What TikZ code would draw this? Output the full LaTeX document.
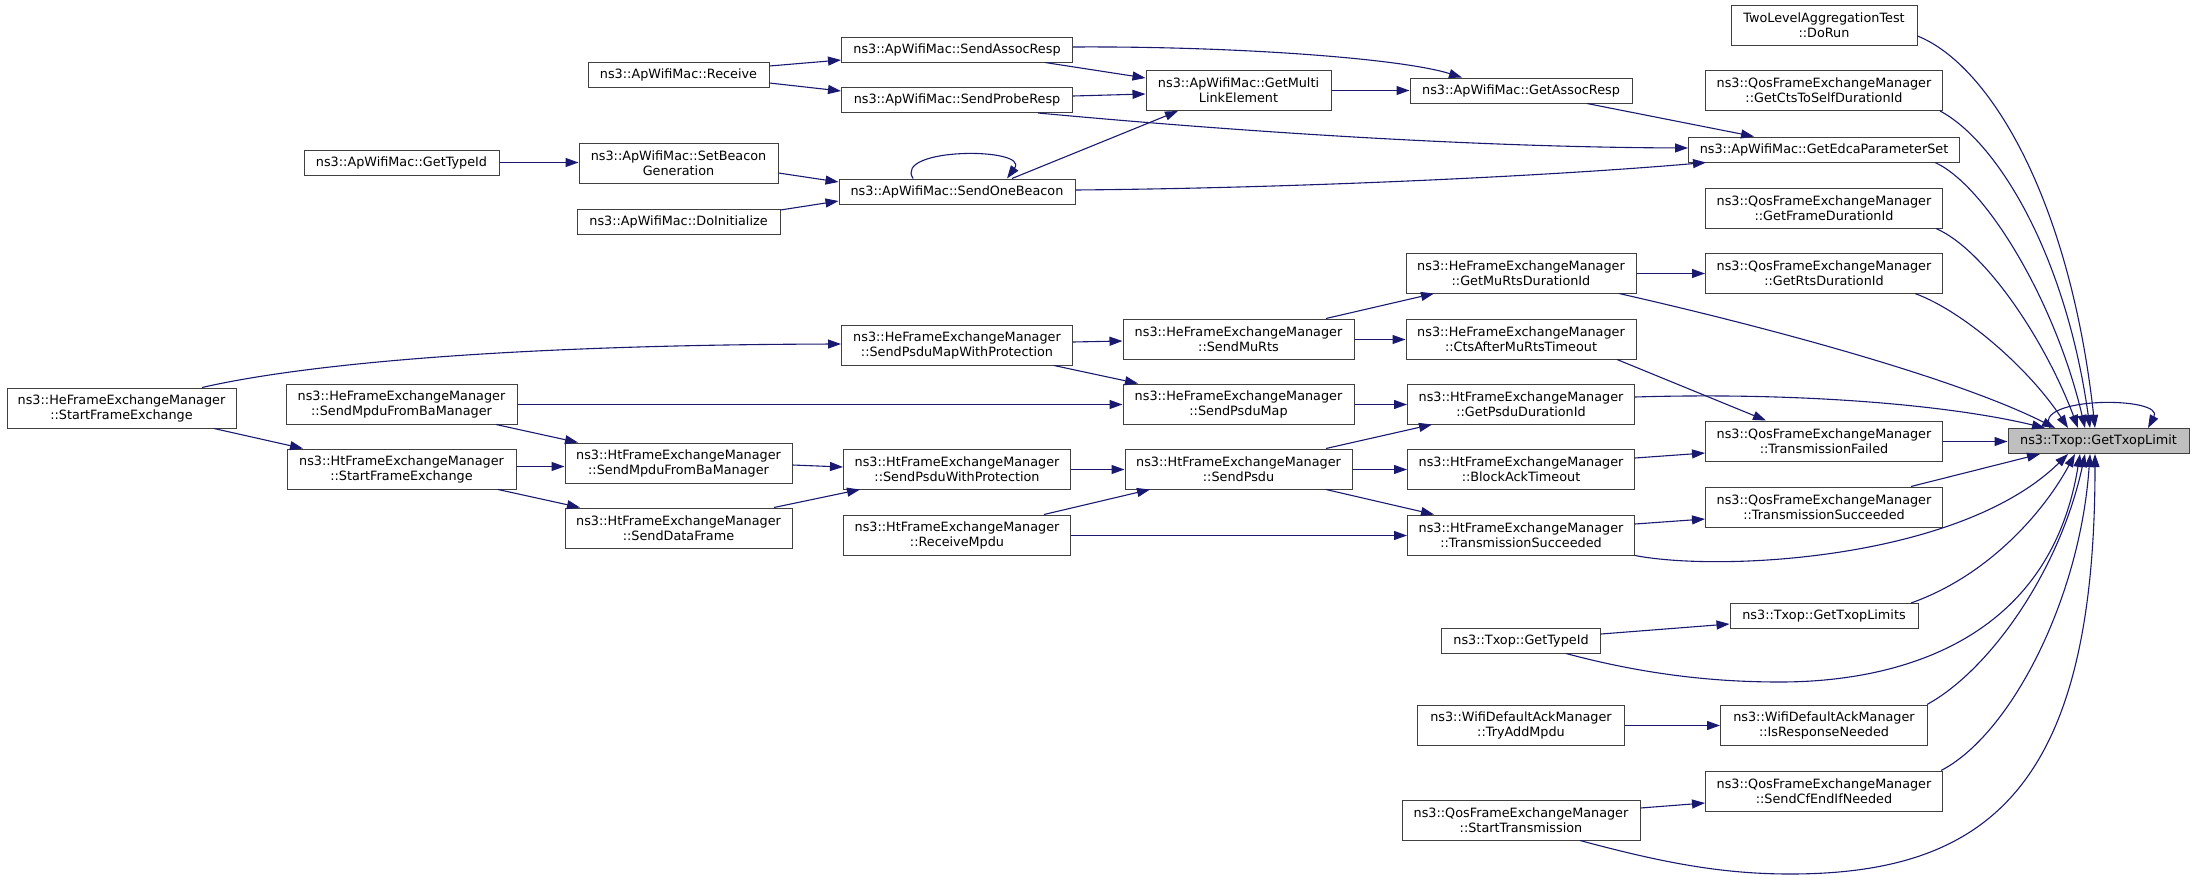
\documentclass[tikz,border=0pt]{standalone}
\usepackage{fontspec}
\setmainfont{DejaVu Sans}
\usetikzlibrary{arrows.meta}
\definecolor{edgeblue}{HTML}{191970}
\definecolor{nodeborder}{HTML}{404040}
\definecolor{hilite}{HTML}{BFBFBF}
\tikzset{
  box/.style={draw=nodeborder, fill=white, line width=1pt, align=center, inner sep=0pt,
    font=\fontsize{12.8}{15}\selectfont},
  edge/.style={draw=edgeblue, line width=1.1pt, -{Triangle[length=13pt,width=9pt]}},
}
\newcommand\gnode[6]{\node[box, minimum width=#4pt, minimum height=#5pt] (#1) at (#2,#3) {#6};}
\begin{document}
\begin{tikzpicture}[x=1pt,y=-1pt]
\useasboundingbox (0,0) rectangle (2195,878);
% column 0
\gnode{heStart}{121.5}{408}{229}{40}{ns3::HeFrameExchangeManager\\::StartFrameExchange}
% column 1
\gnode{apTypeId}{401.5}{163}{195}{25}{ns3::ApWifiMac::GetTypeId}
\gnode{heSendMpdu}{401.5}{404}{231}{40}{ns3::HeFrameExchangeManager\\::SendMpduFromBaManager}
\gnode{htStart}{401.5}{469}{229}{40}{ns3::HtFrameExchangeManager\\::StartFrameExchange}
% column 2
\gnode{receive}{678.5}{74.5}{181}{25}{ns3::ApWifiMac::Receive}
\gnode{setBeacon}{678.5}{163}{199}{40}{ns3::ApWifiMac::SetBeacon\\Generation}
\gnode{doInit}{678.5}{221.5}{203}{25}{ns3::ApWifiMac::DoInitialize}
\gnode{htSendMpdu}{678.5}{463}{227}{40}{ns3::HtFrameExchangeManager\\::SendMpduFromBaManager}
\gnode{htSendData}{678.5}{528}{227}{40}{ns3::HtFrameExchangeManager\\::SendDataFrame}
% column 3
\gnode{sendAssoc}{957}{49.5}{231}{25}{ns3::ApWifiMac::SendAssocResp}
\gnode{sendProbe}{957}{100}{231}{25}{ns3::ApWifiMac::SendProbeResp}
\gnode{sendBeacon}{957}{191.5}{236}{25}{ns3::ApWifiMac::SendOneBeacon}
\gnode{heSendPsduMapWP}{957}{345}{231}{40}{ns3::HeFrameExchangeManager\\::SendPsduMapWithProtection}
\gnode{htSendPsduWP}{957}{469}{227}{40}{ns3::HtFrameExchangeManager\\::SendPsduWithProtection}
\gnode{receiveMpdu}{957}{535}{227}{40}{ns3::HtFrameExchangeManager\\::ReceiveMpdu}
% column 4
\gnode{getMLE}{1238.5}{90.5}{185}{40}{ns3::ApWifiMac::GetMulti\\LinkElement}
\gnode{sendMuRts}{1238.5}{339}{231}{40}{ns3::HeFrameExchangeManager\\::SendMuRts}
\gnode{sendPsduMap}{1238.5}{404}{231}{40}{ns3::HeFrameExchangeManager\\::SendPsduMap}
\gnode{sendPsdu}{1238.5}{469}{227}{40}{ns3::HtFrameExchangeManager\\::SendPsdu}
% column 5
\gnode{getAssoc}{1521}{90.5}{222}{25}{ns3::ApWifiMac::GetAssocResp}
\gnode{getMuRts}{1521}{273}{230}{40}{ns3::HeFrameExchangeManager\\::GetMuRtsDurationId}
\gnode{cts}{1521}{339}{230}{40}{ns3::HeFrameExchangeManager\\::CtsAfterMuRtsTimeout}
\gnode{getPsduDur}{1521}{404}{227}{40}{ns3::HtFrameExchangeManager\\::GetPsduDurationId}
\gnode{blockAck}{1521}{469}{227}{40}{ns3::HtFrameExchangeManager\\::BlockAckTimeout}
\gnode{htTransSucc}{1521}{535}{227}{40}{ns3::HtFrameExchangeManager\\::TransmissionSucceeded}
\gnode{txopTypeId}{1521}{640.5}{159}{25}{ns3::Txop::GetTypeId}
\gnode{tryAdd}{1521}{725}{207}{40}{ns3::WifiDefaultAckManager\\::TryAddMpdu}
\gnode{startTx}{1521}{820}{238}{40}{ns3::QosFrameExchangeManager\\::StartTransmission}
% column 6
\gnode{doRun}{1824}{25}{186}{40}{TwoLevelAggregationTest\\::DoRun}
\gnode{ctsToSelf}{1824}{90.5}{237}{40}{ns3::QosFrameExchangeManager\\::GetCtsToSelfDurationId}
\gnode{edca}{1824}{149.5}{271}{25}{ns3::ApWifiMac::GetEdcaParameterSet}
\gnode{frameDur}{1824}{208}{237}{40}{ns3::QosFrameExchangeManager\\::GetFrameDurationId}
\gnode{rtsDur}{1824}{273}{237}{40}{ns3::QosFrameExchangeManager\\::GetRtsDurationId}
\gnode{transFailed}{1824}{441}{237}{40}{ns3::QosFrameExchangeManager\\::TransmissionFailed}
\gnode{qosTransSucc}{1824}{507}{237}{40}{ns3::QosFrameExchangeManager\\::TransmissionSucceeded}
\gnode{txopLimits}{1824}{616}{188}{25}{ns3::Txop::GetTxopLimits}
\gnode{isResp}{1824}{725}{207}{40}{ns3::WifiDefaultAckManager\\::IsResponseNeeded}
\gnode{cfEnd}{1824}{791}{237}{40}{ns3::QosFrameExchangeManager\\::SendCfEndIfNeeded}
% column 7
\node[box, fill=hilite, minimum width=181pt, minimum height=25pt] (txopLimit) at (2098.5,441) {ns3::Txop::GetTxopLimit};

% edges (upper part)
\draw[edge] (receive.east |- 0,66) -- (sendAssoc.west |- 0,60);
\draw[edge] (receive.east |- 0,83) -- (sendProbe.west |- 0,91);
\draw[edge] (apTypeId.east |- 0,162.5) -- (setBeacon.west |- 0,162.5);
\draw[edge] (setBeacon.east |- 0,173) -- (sendBeacon.west |- 0,182);
\draw[edge] (doInit.east |- 0,210) -- (sendBeacon.west |- 0,201);
\draw[edge] (913,0 |- sendBeacon.north) .. controls (893,147) and (1030,147) .. (1007,0 |- sendBeacon.north);
\draw[edge] (1045,0 |- sendAssoc.south) -- (getMLE.west |- 0,78);
\draw[edge] (sendProbe.east |- 0,96) -- (getMLE.west |- 0,94);
\draw[edge] (1012,0 |- sendBeacon.north) -- (1178,0 |- getMLE.south);
\draw[edge] (getMLE.east |- 0,90.5) -- (getAssoc.west |- 0,90.5);
\draw[edge] (sendAssoc.east |- 0,47) .. controls (1230,46) and (1400,58) .. (1462,0 |- getAssoc.north);
\draw[edge] (1587,0 |- getAssoc.south) -- (1754,0 |- edca.north);
\draw[edge] (1038,0 |- sendProbe.south) .. controls (1200,128) and (1450,147) .. (edca.west |- 0,148);
\draw[edge] (sendBeacon.east |- 0,190) .. controls (1300,188) and (1550,176) .. (1706,0 |- edca.south);

% edges (middle part)
\draw[edge] (202,0 |- heStart.north) .. controls (300,365) and (500,345) .. (heSendPsduMapWP.west |- 0,344);
\draw[edge] (214,0 |- heStart.south) -- (303,0 |- htStart.north);
\draw[edge] (heSendMpdu.east |- 0,404.5) -- (sendPsduMap.west |- 0,404.5);
\draw[edge] (496,0 |- heSendMpdu.south) -- (578,0 |- htSendMpdu.north);
\draw[edge] (htStart.east |- 0,466.5) -- (htSendMpdu.west |- 0,466.5);
\draw[edge] (498,0 |- htStart.south) -- (580,0 |- htSendData.north);
\draw[edge] (htSendMpdu.east |- 0,465) -- (htSendPsduWP.west |- 0,467);
\draw[edge] (774,0 |- htSendData.north) -- (860,0 |- htSendPsduWP.south);
\draw[edge] (heSendPsduMapWP.east |- 0,342) -- (sendMuRts.west |- 0,341);
\draw[edge] (1054,0 |- heSendPsduMapWP.south) -- (1138,0 |- sendPsduMap.north);
\draw[edge] (htSendPsduWP.east |- 0,469.5) -- (sendPsdu.west |- 0,469.5);
\draw[edge] (1044,0 |- receiveMpdu.north) -- (1150,0 |- sendPsdu.south);
\draw[edge] (receiveMpdu.east |- 0,535.5) -- (htTransSucc.west |- 0,535.5);
\draw[edge] (1326,0 |- sendMuRts.north) -- (1434,0 |- getMuRts.south);
\draw[edge] (sendMuRts.east |- 0,339.5) -- (cts.west |- 0,339.5);
\draw[edge] (sendPsduMap.east |- 0,404.5) -- (getPsduDur.west |- 0,404.5);
\draw[edge] (1326,0 |- sendPsdu.north) -- (1432,0 |- getPsduDur.south);
\draw[edge] (sendPsdu.east |- 0,469.5) -- (blockAck.west |- 0,469.5);
\draw[edge] (1326,0 |- sendPsdu.south) -- (1434,0 |- htTransSucc.north);
\draw[edge] (getMuRts.east |- 0,273.5) -- (rtsDur.west |- 0,273.5);
\draw[edge] (1617,0 |- cts.south) -- (1766,0 |- transFailed.north);
\draw[edge] (blockAck.east |- 0,458) -- (transFailed.west |- 0,453);
\draw[edge] (htTransSucc.east |- 0,524) -- (qosTransSucc.west |- 0,519);
\draw[edge] (txopTypeId.east |- 0,634) -- (txopLimits.west |- 0,624);
\draw[edge] (tryAdd.east |- 0,725.5) -- (isResp.west |- 0,725.5);
\draw[edge] (startTx.east |- 0,808) -- (cfEnd.west |- 0,803);

% edges into GetTxopLimit
\draw[edge] (doRun.east |- 0,36) .. controls (1990,65) and (2070,200) .. (2095,0 |- txopLimit.north);
\draw[edge] (1940,0 |- ctsToSelf.south) .. controls (1995,140) and (2065,250) .. (2090,0 |- txopLimit.north);
\draw[edge] (1935,0 |- edca.south) .. controls (1985,185) and (2055,300) .. (2085,0 |- txopLimit.north);
\draw[edge] (1936,0 |- frameDur.south) .. controls (1985,250) and (2045,340) .. (2078,0 |- txopLimit.north);
\draw[edge] (1915,0 |- rtsDur.south) .. controls (1965,312) and (2030,370) .. (2068,0 |- txopLimit.north);
\draw[edge] (1619,0 |- getMuRts.south) .. controls (1780,330) and (1960,380) .. (2055,0 |- txopLimit.north);
\draw[edge] (getPsduDur.east |- 0,397) .. controls (1800,392) and (1950,405) .. (2045,0 |- txopLimit.north);
\draw[edge] (transFailed.east |- 0,441.5) -- (txopLimit.west |- 0,441.5);
\draw[edge] (1911,0 |- qosTransSucc.north) -- (2040,0 |- txopLimit.south);
\draw[edge] (htTransSucc.south east) .. controls (1720,572) and (1960,560) .. (2068,0 |- txopLimit.south);
\draw[edge] (1911,0 |- txopLimits.north) .. controls (1990,575) and (2045,510) .. (2075,0 |- txopLimit.south);
\draw[edge] (1566,0 |- txopTypeId.south) .. controls (1650,676) and (1720,682) .. (1780,682)
  .. controls (1900,682) and (2050,640) .. (2080,0 |- txopLimit.south);
\draw[edge] (1927,0 |- isResp.north) .. controls (1990,670) and (2060,570) .. (2085,0 |- txopLimit.south);
\draw[edge] (1941,0 |- cfEnd.north) .. controls (2010,735) and (2080,600) .. (2090,0 |- txopLimit.south);
\draw[edge] (1580,0 |- startTx.south) .. controls (1660,862) and (1720,874) .. (1790,874)
  .. controls (1990,874) and (2095,785) .. (2095,0 |- txopLimit.south);
\draw[edge] (2050,0 |- txopLimit.north) .. controls (2030,396) and (2165,396) .. (2148,0 |- txopLimit.north);
\end{tikzpicture}
\end{document}
